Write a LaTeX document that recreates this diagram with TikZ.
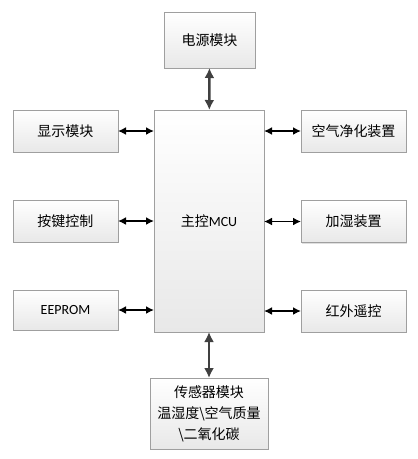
\documentclass[tikz,border=0pt]{standalone}
\usepackage{fontspec}
\setmainfont{Carlito}
\newfontfamily\cjk{Noto Sans CJK SC}
\usetikzlibrary{arrows.meta,shadows}
\begin{document}
\begin{tikzpicture}[x=1pt,y=-1pt,
    block/.style={rectangle,draw=gray!75,line width=0.8pt,top color=white,bottom color=gray!18,
        drop shadow={shadow xshift=1pt,shadow yshift=-1pt,opacity=0.25},
        inner sep=0pt,outer sep=0pt,align=center,font=\fontsize{14}{21}\selectfont},
    side/.style={block,minimum width=105pt,minimum height=42pt},
    link/.style={{Latex[length=8pt,width=8pt]}-{Latex[length=8pt,width=8pt]},line width=1.6pt,black},
    bus/.style={{Latex[length=10pt,width=10pt]}-{Latex[length=10pt,width=10pt]},line width=2.4pt,black!75}
]
\useasboundingbox (0,0) rectangle (418,459);
\node[block,minimum width=91pt,minimum height=56pt] (PWR) at (209.5,40) {\cjk 电源模块};
\node[block,minimum width=110pt,minimum height=222pt] (MCU) at (209,221) {{\cjk 主控}MCU};
\node[side] (DISP) at (65.5,131)  {\cjk 显示模块};
\node[side] (KEY)  at (65.5,221)  {\cjk 按键控制};
\node[side,minimum height=40pt] (EEP) at (65.5,310) {EEPROM};
\node[side] (AIR)  at (353.5,131) {\cjk 空气净化装置};
\node[side] (HUM)  at (353.5,221.5) {\cjk 加湿装置};
\node[side] (IR)   at (353.5,311) {\cjk 红外遥控};
\node[block,minimum width=118pt,minimum height=71pt] (SNS) at (209,413.5)
    {\cjk 传感器模块\\\cjk 温湿度\textbackslash 空气质量\\\cjk \textbackslash 二氧化碳};

\draw[bus] (PWR) -- (MCU);
\draw[bus] (MCU) -- (SNS);
\draw[link] (DISP.east) -- (DISP.east -| MCU.west);
\draw[link] (KEY.east)  -- (KEY.east -| MCU.west);
\draw[link] (EEP.east)  -- (EEP.east -| MCU.west);
\draw[link] (AIR.west -| MCU.east) -- (AIR.west);
\draw[link] (HUM.west -| MCU.east) -- (HUM.west);
\draw[link] (IR.west -| MCU.east)  -- (IR.west);
\end{tikzpicture}
\end{document}
